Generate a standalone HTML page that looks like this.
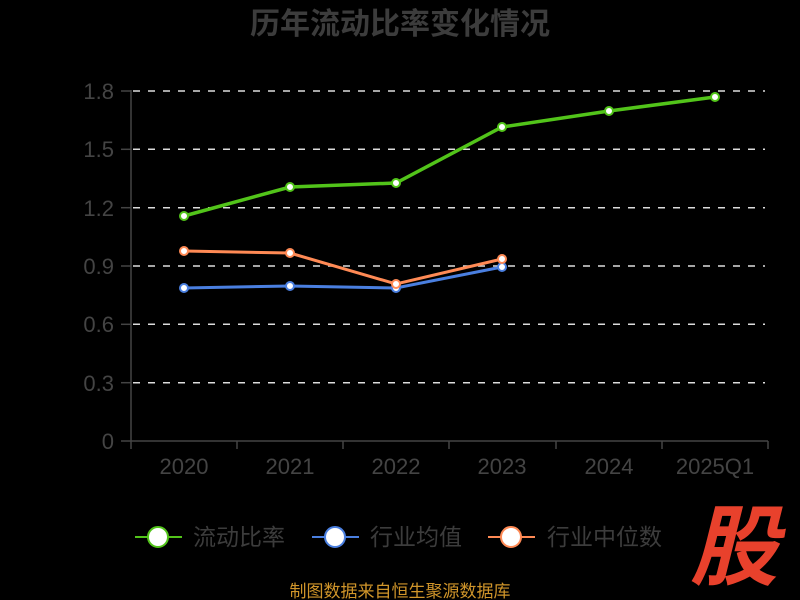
<!DOCTYPE html>
<html><head><meta charset="utf-8"><style>
html,body{margin:0;padding:0;background:#000;}
body{width:800px;height:600px;overflow:hidden;}
svg{display:block;}
</style></head><body>
<svg width="800" height="600" xmlns="http://www.w3.org/2000/svg" font-family="'Liberation Sans','Noto Sans CJK SC',sans-serif">
<rect width="800" height="600" fill="#000"/>
<text x="400" y="34" text-anchor="middle" font-size="30" font-weight="bold" fill="#3c3c3c">历年流动比率变化情况</text>
<g stroke="#dddddd" stroke-width="1.5" stroke-dasharray="7,8">
<line x1="133" y1="91" x2="765" y2="91"/>
<line x1="133" y1="149.3" x2="765" y2="149.3"/>
<line x1="133" y1="207.7" x2="765" y2="207.7"/>
<line x1="133" y1="266" x2="765" y2="266"/>
<line x1="133" y1="324.3" x2="765" y2="324.3"/>
<line x1="133" y1="382.7" x2="765" y2="382.7"/>
</g>
<g stroke="#444" stroke-width="1.5">
<line x1="131" y1="90" x2="131" y2="441"/>
<line x1="121" y1="441" x2="768" y2="441"/>
<line x1="121" y1="91" x2="131" y2="91"/>
<line x1="121" y1="149.3" x2="131" y2="149.3"/>
<line x1="121" y1="207.7" x2="131" y2="207.7"/>
<line x1="121" y1="266" x2="131" y2="266"/>
<line x1="121" y1="324.3" x2="131" y2="324.3"/>
<line x1="121" y1="382.7" x2="131" y2="382.7"/>
<line x1="131" y1="441" x2="131" y2="449"/>
<line x1="237" y1="441" x2="237" y2="449"/>
<line x1="343" y1="441" x2="343" y2="449"/>
<line x1="449" y1="441" x2="449" y2="449"/>
<line x1="556" y1="441" x2="556" y2="449"/>
<line x1="662" y1="441" x2="662" y2="449"/>
<line x1="768" y1="441" x2="768" y2="449"/>
</g>
<g font-size="22" fill="#444" text-anchor="end">
<text x="114" y="99">1.8</text>
<text x="114" y="157">1.5</text>
<text x="114" y="216">1.2</text>
<text x="114" y="274">0.9</text>
<text x="114" y="332">0.6</text>
<text x="114" y="391">0.3</text>
<text x="114" y="449">0</text>
</g>
<g font-size="22" fill="#444" text-anchor="middle">
<text x="184" y="474">2020</text>
<text x="290" y="474">2021</text>
<text x="396" y="474">2022</text>
<text x="502" y="474">2023</text>
<text x="609" y="474">2024</text>
<text x="715" y="474">2025Q1</text>
</g>
<polyline points="184,288 290,286 396,288 502,267" fill="none" stroke="#4a7fe0" stroke-width="3"/>
<polyline points="184,251 290,253 396,284 502,259" fill="none" stroke="#ff8a55" stroke-width="3"/>
<polyline points="184,216 290,187 396,183 502,127 609,111 715,97" fill="none" stroke="#52c41a" stroke-width="3.5"/>
<g fill="#fff" stroke="#4a7fe0" stroke-width="2">
<circle cx="184" cy="288" r="4"/><circle cx="290" cy="286" r="4"/><circle cx="396" cy="288" r="4"/><circle cx="502" cy="267" r="4"/>
</g>
<g fill="#fff" stroke="#ff8a55" stroke-width="2">
<circle cx="184" cy="251" r="4"/><circle cx="290" cy="253" r="4"/><circle cx="396" cy="284" r="4"/><circle cx="502" cy="259" r="4"/>
</g>
<g fill="#fff" stroke="#52c41a" stroke-width="2">
<circle cx="184" cy="216" r="4"/><circle cx="290" cy="187" r="4"/><circle cx="396" cy="183" r="4"/><circle cx="502" cy="127" r="4"/><circle cx="609" cy="111" r="4"/><circle cx="715" cy="97" r="4"/>
</g>
<g stroke-width="2">
<line x1="135" y1="537" x2="182" y2="537" stroke="#52c41a"/>
<circle cx="158" cy="537" r="10" fill="#fff" stroke="#52c41a"/>
<line x1="312" y1="537" x2="359" y2="537" stroke="#4a7fe0"/>
<circle cx="335" cy="537" r="10" fill="#fff" stroke="#4a7fe0"/>
<line x1="488" y1="537" x2="535" y2="537" stroke="#ff8a55"/>
<circle cx="511" cy="537" r="10" fill="#fff" stroke="#ff8a55"/>
</g>
<g font-size="23" fill="#3c3c3c">
<text x="193" y="545">流动比率</text>
<text x="370" y="545">行业均值</text>
<text x="547" y="545">行业中位数</text>
</g>
<text x="400" y="597" text-anchor="middle" font-size="17" fill="#d0952a">制图数据来自恒生聚源数据库</text>
<text x="734" y="578" text-anchor="middle" font-size="88" font-weight="bold" font-style="italic" fill="#e8412c">股</text>
</svg>
</body></html>
